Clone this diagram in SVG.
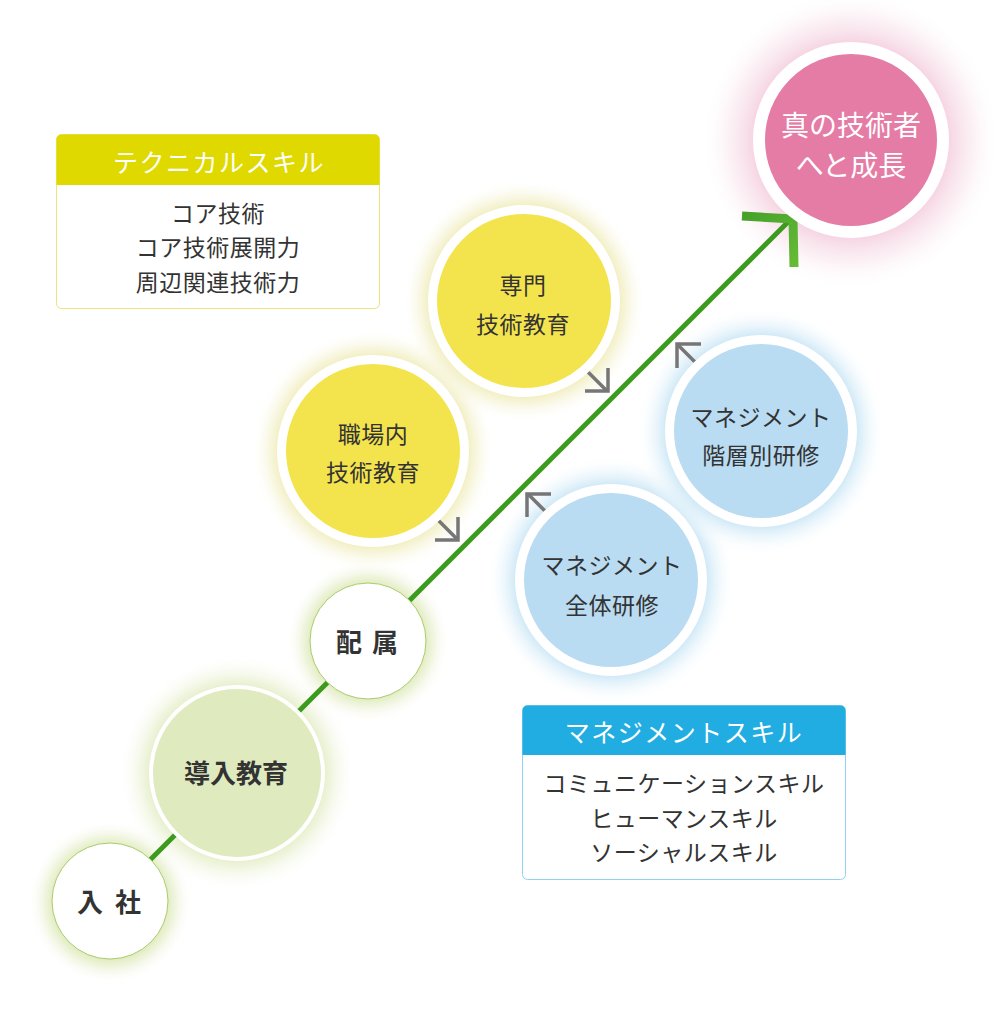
<svg xmlns="http://www.w3.org/2000/svg" width="993" height="1013" viewBox="0 0 993 1013">
  <defs>
    <radialGradient id="gGreen">
      <stop offset="0.6" stop-color="#c9dc8c" stop-opacity="0.9"/>
      <stop offset="0.8" stop-color="#e1ebbf" stop-opacity="0.5"/>
      <stop offset="1" stop-color="#ffffff" stop-opacity="0"/>
    </radialGradient>
    <radialGradient id="gYellow">
      <stop offset="0.7" stop-color="#e6e08a" stop-opacity="0.9"/>
      <stop offset="0.85" stop-color="#f1eec0" stop-opacity="0.5"/>
      <stop offset="1" stop-color="#ffffff" stop-opacity="0"/>
    </radialGradient>
    <radialGradient id="gBlue">
      <stop offset="0.7" stop-color="#a9d6ef" stop-opacity="0.9"/>
      <stop offset="0.85" stop-color="#d5ecf8" stop-opacity="0.5"/>
      <stop offset="1" stop-color="#ffffff" stop-opacity="0"/>
    </radialGradient>
    <radialGradient id="gPink">
      <stop offset="0.62" stop-color="#f3c9d9" stop-opacity="0.9"/>
      <stop offset="0.8" stop-color="#f8e2eb" stop-opacity="0.55"/>
      <stop offset="1" stop-color="#ffffff" stop-opacity="0"/>
    </radialGradient>
    <linearGradient id="gArrow" x1="0" y1="0" x2="1" y2="1">
      <stop offset="0" stop-color="#45a12a"/>
      <stop offset="1" stop-color="#66bb36"/>
    </linearGradient>
  </defs>
  <style>
    text { font-family: "Noto Sans CJK JP", "Noto Sans", sans-serif; text-anchor: middle; }
    .dark { fill: #333333; }
    .big { font-size: 26px; font-weight: 700; }
    .mid { font-size: 23px; letter-spacing: 0.5px; }
    .hd { font-size: 25px; fill: #ffffff; letter-spacing: 1.5px; }
    .bd { font-size: 23px; fill: #333333; letter-spacing: 0.5px; }
    .ring { stroke: #ffffff; stroke-width: 9; }
    .gray { fill: none; stroke: #767676; stroke-width: 3.5; stroke-linecap: butt; stroke-linejoin: miter; }
  </style>
  <rect width="993" height="1013" fill="#ffffff"/>

  <!-- glows -->
  <g id="glows">
    <circle cx="110" cy="902" r="82" fill="url(#gGreen)"/>
    <circle cx="237" cy="773" r="118" fill="url(#gGreen)"/>
    <circle cx="368" cy="641" r="82" fill="url(#gGreen)"/>
    <circle cx="373" cy="451" r="122" fill="url(#gYellow)"/>
    <circle cx="524" cy="301" r="122" fill="url(#gYellow)"/>
    <circle cx="611" cy="580" r="124" fill="url(#gBlue)"/>
    <circle cx="761" cy="431" r="124" fill="url(#gBlue)"/>
    <circle cx="851" cy="140" r="150" fill="url(#gPink)"/>
  </g>

  <g id="connectors">
    <line x1="130" y1="880" x2="791" y2="219" stroke="#3c9a1e" stroke-width="5"/>
    <polyline points="742,216 793,219 794,267" fill="none" stroke="url(#gArrow)" stroke-width="9" stroke-linejoin="miter"/>
    <g id="arrow-1">
      <line class="gray" x1="433" y1="515" x2="457" y2="539"/>
      <polyline class="gray" points="435,540 458,540 458,517"/>
    </g>
    <g id="arrow-2">
      <line class="gray" x1="583" y1="367" x2="607" y2="391"/>
      <polyline class="gray" points="585,391 608,391 608,368"/>
    </g>
    <g id="arrow-3">
      <line class="gray" x1="552" y1="518" x2="528" y2="494"/>
      <polyline class="gray" points="551,494 527,494 527,517"/>
    </g>
    <g id="arrow-4">
      <line class="gray" x1="702" y1="369" x2="678" y2="345"/>
      <polyline class="gray" points="701,344 677,344 677,368"/>
    </g>
  </g>

  <g id="node-nyusha">
    <circle cx="110" cy="901" r="58" fill="#ffffff" stroke="#a8cc6a" stroke-width="1"/>
    <text class="dark big" x="90" y="912">入</text>
    <text class="dark big" x="128" y="912">社</text>
  </g>
  <g id="node-dounyu">
    <circle cx="237" cy="773" r="86" fill="#e0eabf" stroke="#ffffff" stroke-width="4"/>
    <text class="dark big" x="236" y="783">導入教育</text>
  </g>
  <g id="node-haizoku">
    <circle cx="368" cy="641" r="58" fill="#ffffff" stroke="#a8cc6a" stroke-width="1"/>
    <text class="dark big" x="349" y="652">配</text>
    <text class="dark big" x="385" y="652">属</text>
  </g>
  <g id="node-shokuba">
    <circle cx="373" cy="451" r="91.5" fill="#f3e44e" class="ring"/>
    <text class="dark mid" x="373" y="443">職場内</text>
    <text class="dark mid" x="373" y="481">技術教育</text>
  </g>
  <g id="node-senmon">
    <circle cx="524" cy="301" r="91.5" fill="#f3e44e" class="ring"/>
    <text class="dark mid" x="523" y="294">専門</text>
    <text class="dark mid" x="523" y="333">技術教育</text>
  </g>
  <g id="node-zentai">
    <circle cx="611" cy="580" r="91.5" fill="#b9dcf2" class="ring"/>
    <text class="dark mid" x="612" y="574">マネジメント</text>
    <text class="dark mid" x="612" y="614">全体研修</text>
  </g>
  <g id="node-kaisou">
    <circle cx="761" cy="431" r="91.5" fill="#b9dcf2" class="ring"/>
    <text class="dark mid" x="761" y="426">マネジメント</text>
    <text class="dark mid" x="761" y="464">階層別研修</text>
  </g>
  <g id="node-goal">
    <circle cx="851" cy="140" r="92" fill="#e57ca5" stroke="#ffffff" stroke-width="12"/>
    <text x="851" y="136" font-size="28" fill="#ffffff">真の技術者</text>
    <text x="851" y="176" font-size="28" fill="#ffffff">へと成長</text>
  </g>

  <g id="box-technical">
    <rect x="56.5" y="134.5" width="323" height="174" rx="5" fill="#ffffff" stroke="#e9e57a" stroke-width="1"/>
    <path d="M56.5,185 V139.5 a5,5 0 0 1 5,-5 H374.5 a5,5 0 0 1 5,5 V185 Z" fill="#dfd900"/>
    <text class="hd" x="219" y="172">テクニカルスキル</text>
    <text class="bd" x="218" y="222">コア技術</text>
    <text class="bd" x="218" y="256">コア技術展開力</text>
    <text class="bd" x="218" y="291">周辺関連技術力</text>
  </g>

  <g id="box-management">
    <rect x="522.5" y="705.5" width="323" height="174" rx="5" fill="#ffffff" stroke="#8ed2ef" stroke-width="1"/>
    <path d="M522.5,755 V710.5 a5,5 0 0 1 5,-5 H840.5 a5,5 0 0 1 5,5 V755 Z" fill="#21ade2"/>
    <text class="hd" x="684" y="742">マネジメントスキル</text>
    <text class="bd" x="684" y="792">コミュニケーションスキル</text>
    <text class="bd" x="684" y="827">ヒューマンスキル</text>
    <text class="bd" x="684" y="861">ソーシャルスキル</text>
  </g>
</svg>
